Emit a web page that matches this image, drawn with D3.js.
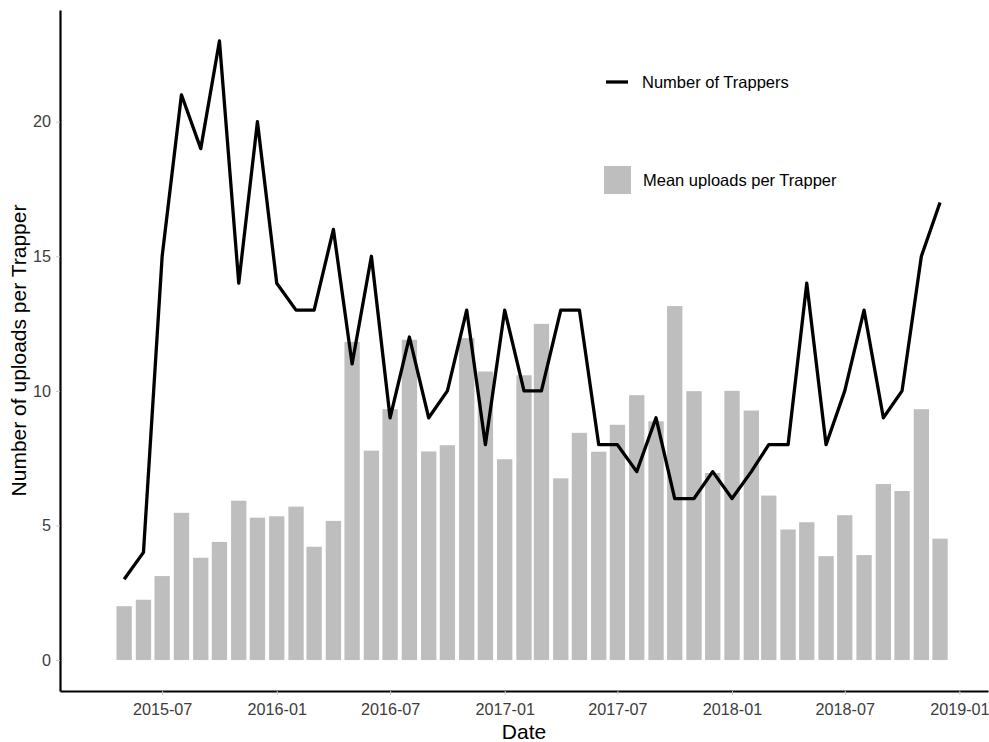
<!DOCTYPE html>
<html>
<head>
<meta charset="utf-8">
<script src="https://cdn.jsdelivr.net/npm/d3@7"></script>
<style>
  html, body { margin: 0; padding: 0; background: #fff; }
  svg { display: block; font-family: "Liberation Sans", Arial, Helvetica, sans-serif; }
</style>
</head>
<body>
<svg id="chart" width="989" height="742"></svg>
<script>
const months = ["2015-05-01","2015-06-01","2015-07-01","2015-08-01","2015-09-01","2015-10-01","2015-11-01","2015-12-01",
  "2016-01-01","2016-02-01","2016-03-01","2016-04-01","2016-05-01","2016-06-01","2016-07-01","2016-08-01","2016-09-01","2016-10-01","2016-11-01","2016-12-01",
  "2017-01-01","2017-02-01","2017-03-01","2017-04-01","2017-05-01","2017-06-01","2017-07-01","2017-08-01","2017-09-01","2017-10-01","2017-11-01","2017-12-01",
  "2018-01-01","2018-02-01","2018-03-01","2018-04-01","2018-05-01","2018-06-01","2018-07-01","2018-08-01","2018-09-01","2018-10-01","2018-11-01","2018-12-01"];
const trappers = [3,4,15,21,19,23,14,20,14,13,13,16,11,15,9,12,9,10,13,8,13,10,10,13,13,8,8,7,9,6,6,7,6,7,8,8,14,8,10,13,9,10,15,17];
const uploads = [2.0,2.24,3.12,5.47,3.80,4.39,5.92,5.29,5.34,5.70,4.21,5.17,
  11.82,7.78,9.32,11.90,7.75,7.98,11.96,10.72,7.46,10.58,12.49,6.75,
  8.44,7.74,8.74,9.84,8.87,13.15,9.99,6.95,10.0,9.27,6.11,4.85,
  5.12,3.86,5.38,3.90,6.54,6.28,9.32,4.51];
const xTickLabels = ["2015-07","2016-01","2016-07","2017-01","2017-07","2018-01","2018-07","2019-01"];
const yTicks = [0,5,10,15,20];
const legendLabels = ["Number of Trappers","Mean uploads per Trapper"];
const xTitle = "Date";
const yTitle = "Number of uploads per Trapper";

const parse = d3.utcParse("%Y-%m-%d");
const parseTick = d3.utcParse("%Y-%m");
const data = months.map((m, i) => ({ date: parse(m), n: trappers[i], u: uploads[i] }));

const svg = d3.select("#chart");
const L = 60, R = 988, T = 10, B = 691;

const x = d3.scaleUtc()
  .domain([parse("2015-01-18"), parse("2019-02-16")])
  .range([L, R]);
const y = d3.scaleLinear().domain([-1.15, 24.15]).range([B, T]);

const halfBarDays = 12.3;
const dayMs = 86400000;

// Bars
svg.append("g").selectAll("rect").data(data).join("rect")
  .attr("x", d => x(new Date(d.date.getTime() - halfBarDays * dayMs)))
  .attr("width", d => x(new Date(d.date.getTime() + halfBarDays * dayMs)) - x(new Date(d.date.getTime() - halfBarDays * dayMs)))
  .attr("y", d => y(d.u))
  .attr("height", d => y(0) - y(d.u))
  .attr("fill", "#bebebe");

// Line
const line = d3.line().x(d => x(d.date)).y(d => y(d.n));
svg.append("path").datum(data)
  .attr("d", line)
  .attr("fill", "none")
  .attr("stroke", "#000")
  .attr("stroke-width", 3.3)
  .attr("stroke-linejoin", "round");

// X axis
const xAxis = d3.axisBottom(x)
  .tickValues(xTickLabels.map(s => parseTick(s)))
  .tickFormat(d3.utcFormat("%Y-%m"))
  .tickSize(4).tickSizeOuter(0).tickPadding(8);
const gx = svg.append("g").attr("transform", `translate(0,${B})`).call(xAxis);
gx.select(".domain").attr("stroke", "#000").attr("stroke-width", 2.2);
gx.selectAll(".tick line").attr("stroke", "#c8c8c8").attr("stroke-width", 1);
gx.selectAll(".tick text").attr("fill", "#3d3d3d").attr("font-size", 16.2)
  .attr("font-family", "Liberation Sans, Arial, sans-serif");

// Y axis
const yAxis = d3.axisLeft(y).tickValues(yTicks).tickSize(4).tickSizeOuter(0).tickPadding(5);
const gy = svg.append("g").attr("transform", `translate(${L},0)`).call(yAxis);
gy.select(".domain").attr("stroke", "#000").attr("stroke-width", 2.2);
gy.selectAll(".tick line").attr("stroke", "#c8c8c8").attr("stroke-width", 1);
gy.selectAll(".tick text").attr("fill", "#3d3d3d").attr("font-size", 16.2)
  .attr("font-family", "Liberation Sans, Arial, sans-serif");

// Axis titles
svg.append("text").attr("x", (L + R) / 2).attr("y", 739)
  .attr("text-anchor", "middle").attr("font-size", 21).attr("fill", "#000").text(xTitle);
svg.append("text").attr("transform", `translate(26,${(T + B) / 2}) rotate(-90)`)
  .attr("text-anchor", "middle").attr("font-size", 21).attr("fill", "#000").text(yTitle);

// Legend
const lg = svg.append("g");
lg.append("line").attr("x1", 606).attr("x2", 628).attr("y1", 82).attr("y2", 82)
  .attr("stroke", "#000").attr("stroke-width", 3.3);
lg.append("text").attr("x", 642).attr("y", 88).attr("font-size", 16.5).attr("fill", "#000").text(legendLabels[0]);
lg.append("rect").attr("x", 604).attr("y", 166).attr("width", 27).attr("height", 28).attr("fill", "#bebebe");
lg.append("text").attr("x", 643).attr("y", 186).attr("font-size", 16.5).attr("fill", "#000").text(legendLabels[1]);
</script>
</body>
</html>
